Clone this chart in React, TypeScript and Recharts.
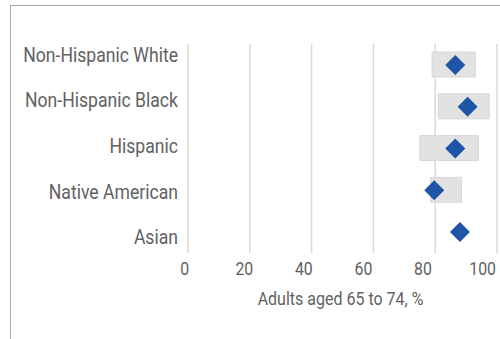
import React from 'react';
import { ComposedChart, Bar, Line, XAxis, YAxis, CartesianGrid } from 'recharts';

const categories = ['Non-Hispanic White', 'Non-Hispanic Black', 'Hispanic', 'Native American', 'Asian'];
const lows: (number | null)[] = [79, 81, 75, 78.5, null];
const highs: (number | null)[] = [93, 97.5, 94, 88.5, null];
const values = [86.5, 90.5, 86.5, 79.7, 88];
const xTicks = [0, 20, 40, 60, 80, 100];

const data = categories.map((name, i) => ({
  name,
  range: lows[i] != null && highs[i] != null ? [lows[i], highs[i]] : null,
  value: values[i],
}));

const FONT = "Roboto, 'Liberation Sans', sans-serif";
const TEXT = '#616161';

const Diamond = (props: any) => {
  const { cx, cy } = props;
  if (cx == null || cy == null) return null;
  const r = 10;
  return (
    <polygon
      points={`${cx},${cy - r} ${cx + r},${cy} ${cx},${cy + r} ${cx - r},${cy}`}
      fill="#1f55a6"
    />
  );
};

const YTick = (props: any) => {
  const { x, y, payload } = props;
  const ny = 148.5 + (y - 148.5) * 1.09 - 2.5;
  return (
    <g transform={`translate(${x - 10},${ny}) scale(0.88,1)`}>
      <text x={0} y={0} dy="0.35em" textAnchor="end" fill={TEXT} fontFamily={FONT} fontSize={20}>
        {payload.value}
      </text>
    </g>
  );
};

const XTick = (props: any) => {
  const { x, y, payload } = props;
  const nx = 184.7 + (x - 188) * 0.964;
  return (
    <g transform={`translate(${nx},${y + 22}) scale(0.88,1)`}>
      <text x={0} y={0} textAnchor="middle" fill={TEXT} fontFamily={FONT} fontSize={18}>
        {payload.value}
      </text>
    </g>
  );
};

const AxisTitle = (props: any) => {
  const vb = props.viewBox || {};
  const cx = (vb.x ?? 0) + (vb.width ?? 0) / 2 - 2;
  const by = (vb.y ?? 0) + (vb.height ?? 0) - 8;
  return (
    <g transform={`translate(${cx},${by}) scale(0.89,1)`}>
      <text x={0} y={0} textAnchor="middle" fill={TEXT} fontFamily={FONT} fontSize={18}>
        Adults aged 65 to 74, %
      </text>
    </g>
  );
};

export default function App() {
  return (
    <div style={{ position: 'absolute', left: 0, top: 0, width: 500, height: 339, overflow: 'hidden', background: '#fff' }}>
      <div
        style={{
          position: 'absolute',
          left: 10,
          top: 5,
          width: 700,
          height: 700,
          border: '1px solid #a8a8a8',
          boxSizing: 'border-box',
        }}
      />
      <div style={{ position: 'absolute', left: 0, top: 0 }}>
        <ComposedChart
          width={500}
          height={339}
          data={data}
          layout="vertical"
          margin={{ top: 44, right: 3, bottom: 26, left: 0 }}
          barCategoryGap={0}
        >
          <CartesianGrid horizontal={false} vertical stroke="#d9d9d9" strokeWidth={1.5} />
          <XAxis
            type="number"
            domain={[0, 100]}
            ticks={xTicks}
            axisLine={false}
            tickLine={false}
            tickSize={0}
            tickMargin={0}
            height={60}
            tick={<XTick />}
            interval={0}
            label={<AxisTitle />}
          />
          <YAxis
            type="category"
            dataKey="name"
            width={188}
            axisLine={false}
            tickLine={false}
            tickSize={0}
            tickMargin={0}
            tick={<YTick />}
            interval={0}
          />
          <Bar dataKey="range" barSize={25} fill="#e2e2e2" stroke="#d8d8d8" isAnimationActive={false} />
          <Line
            dataKey="value"
            stroke="none"
            dot={<Diamond />}
            activeDot={false}
            isAnimationActive={false}
          />
        </ComposedChart>
      </div>
    </div>
  );
}
